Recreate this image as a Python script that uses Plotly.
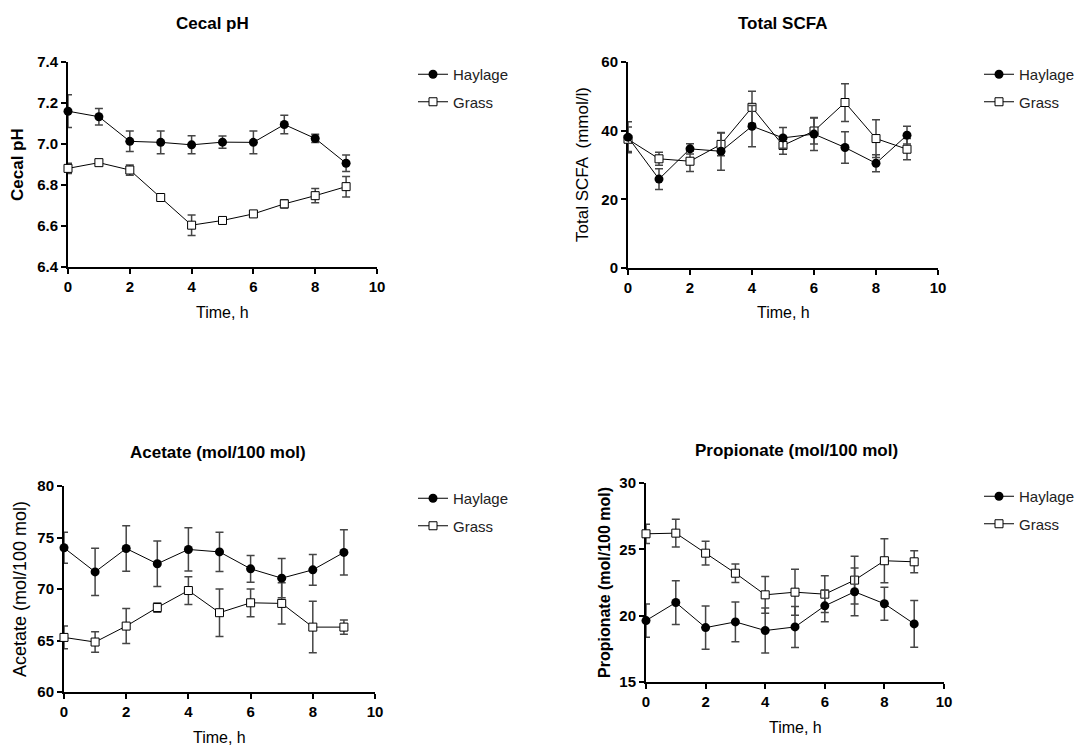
import plotly.graph_objects as go

time_h = [0, 1, 2, 3, 4, 5, 6, 7, 8, 9]

ph_hay = [7.16, 7.133, 7.013, 7.008, 6.996, 7.009, 7.008, 7.095, 7.027, 6.906]
ph_hay_err = [0.08, 0.04, 0.05, 0.055, 0.044, 0.03, 0.055, 0.045, 0.02, 0.04]
ph_grass = [6.881, 6.909, 6.873, 6.739, 6.604, 6.627, 6.659, 6.708, 6.748, 6.792]
ph_grass_err = [0.025, 0.01, 0.025, 0.01, 0.05, 0.005, 0.01, 0.02, 0.035, 0.05]

scfa_hay = [38.1, 25.9, 34.7, 34.0, 41.3, 37.9, 39.0, 35.1, 30.5, 38.7]
scfa_hay_err = [4.5, 3.0, 1.5, 5.5, 6.0, 3.0, 4.8, 4.6, 2.5, 2.6]
scfa_grass = [37.5, 31.8, 31.1, 36.0, 46.8, 35.7, 39.9, 48.2, 37.7, 34.6]
scfa_grass_err = [3.6, 1.9, 3.0, 3.3, 4.7, 2.6, 3.8, 5.5, 5.5, 3.1]

ace_hay = [74.0, 71.66, 73.93, 72.45, 73.84, 73.6, 71.96, 71.05, 71.86, 73.55]
ace_hay_err = [1.5, 2.3, 2.2, 2.2, 2.1, 1.9, 1.3, 1.9, 1.5, 2.2]
ace_grass = [65.3, 64.85, 66.4, 68.2, 69.85, 67.7, 68.66, 68.6, 66.3, 66.3]
ace_grass_err = [1.1, 1.0, 1.7, 0.45, 1.35, 2.3, 1.35, 2.0, 2.5, 0.7]

pro_hay = [19.63, 20.99, 19.1, 19.53, 18.88, 19.15, 20.74, 21.8, 20.9, 19.38]
pro_hay_err = [1.25, 1.65, 1.63, 1.5, 1.7, 1.55, 1.2, 1.8, 1.25, 1.76]
pro_grass = [26.17, 26.22, 24.71, 23.2, 21.57, 21.77, 21.62, 22.68, 24.14, 24.06]
pro_grass_err = [0.73, 1.04, 0.9, 0.7, 1.38, 1.73, 1.38, 1.8, 1.66, 0.83]

panel_titles = ["Cecal pH", "Total SCFA", "Acetate (mol/100 mol)", "Propionate (mol/100 mol)"]
y_titles = ["Cecal pH", "Total SCFA  (mmol/l)", "Acetate (mol/100 mol)", "Propionate (mol/100 mol)"]
y_title_bold = [True, False, False, True]
y_title_size = [17, 17, 18, 16]
y_ranges = [[6.4, 7.4], [0, 60], [60, 80], [15, 30]]
y_dticks = [0.2, 20, 5, 5]
y_tickformats = [".1f", "d", "d", "d"]
series_names = ["Haylage", "Grass"]

W, H = 1086, 747
FONT = "Liberation Sans, Arial, sans-serif"

# panel plot-area boxes in pixels: left, right, top, bottom
boxes = [(68, 377, 62, 267), (628, 938, 62, 268), (64, 375, 486, 692), (646, 944, 483, 682)]
title_pos = [(212, 24), (782, 24), (218, 452), (796, 450)]
ytitle_pos = [(18, 165), (583, 165), (20, 589), (604, 583)]
xtitle_y = [312, 312, 737, 727]
legend_pos = [(413, 58), (979, 58), (413, 482), (979, 480)]

data = [
    (ph_hay, ph_hay_err, ph_grass, ph_grass_err),
    (scfa_hay, scfa_hay_err, scfa_grass, scfa_grass_err),
    (ace_hay, ace_hay_err, ace_grass, ace_grass_err),
    (pro_hay, pro_hay_err, pro_grass, pro_grass_err),
]

fig = go.Figure()
layout = {}
annotations = []
for i, (hv, he, gv, ge) in enumerate(data):
    n = "" if i == 0 else str(i + 1)
    xa, ya = "x" + n, "y" + n
    lg = "legend" + n
    err_style = dict(type="data", color="#454545", thickness=1.5, width=4)
    fig.add_trace(go.Scatter(
        x=time_h, y=gv, name=series_names[1], mode="lines+markers",
        xaxis=xa, yaxis=ya, legend=lg, legendrank=2, legendgroup="g%d" % i,
        line=dict(color="black", width=1),
        marker=dict(symbol="square", size=8, color="white", line=dict(color="black", width=1)),
        error_y=dict(array=ge, **err_style), cliponaxis=False,
    ))
    fig.add_trace(go.Scatter(
        x=time_h, y=hv, name=series_names[0], mode="lines+markers",
        xaxis=xa, yaxis=ya, legend=lg, legendrank=1, legendgroup="h%d" % i,
        line=dict(color="black", width=1),
        marker=dict(symbol="circle", size=9, color="black"),
        error_y=dict(array=he, **err_style), cliponaxis=False,
    ))
    l, r, t, b = boxes[i]
    axis_common = dict(showline=True, linecolor="black", linewidth=2, ticks="outside",
                       ticklen=5, tickwidth=2, tickcolor="black", showgrid=False,
                       zeroline=False, layer="below traces", automargin=False,
                       tickfont=dict(family=FONT, size=15, color="black", weight="bold"))
    layout["xaxis" + n] = dict(domain=[l / W, r / W], range=[0, 10], dtick=2, tick0=0,
                               anchor=ya, **axis_common)
    layout["yaxis" + n] = dict(domain=[1 - b / H, 1 - t / H], range=y_ranges[i],
                               dtick=y_dticks[i], tick0=y_ranges[i][0],
                               tickformat=y_tickformats[i], anchor=xa, **axis_common)
    lx, ly = legend_pos[i]
    layout[lg] = dict(x=lx / W, y=1 - ly / H, xanchor="left", yanchor="top",
                      bgcolor="rgba(0,0,0,0)", tracegroupgap=5, borderwidth=0,
                      font=dict(family=FONT, size=15, color="#222"))
    tx, ty = title_pos[i]
    annotations.append(dict(text="<b>%s</b>" % panel_titles[i], x=tx / W, y=1 - ty / H,
                            xref="paper", yref="paper", showarrow=False,
                            xanchor="center", yanchor="middle",
                            font=dict(family=FONT, size=17, color="black")))
    yx, yy = ytitle_pos[i]
    yt = "<b>%s</b>" % y_titles[i] if y_title_bold[i] else y_titles[i]
    annotations.append(dict(text=yt, x=yx / W, y=1 - yy / H, xref="paper", yref="paper",
                            showarrow=False, textangle=-90,
                            xanchor="center", yanchor="middle",
                            font=dict(family=FONT, size=y_title_size[i], color="black")))
    annotations.append(dict(text="Time, h", x=(l + r) / 2 / W, y=1 - xtitle_y[i] / H,
                            xref="paper", yref="paper", showarrow=False,
                            xanchor="center", yanchor="middle",
                            font=dict(family=FONT, size=16, color="black")))

fig.update_layout(width=W, height=H, margin=dict(l=0, r=0, t=0, b=0, pad=0),
                  paper_bgcolor="white", plot_bgcolor="white", showlegend=True,
                  annotations=annotations, **layout)
fig.write_html("out.html")
